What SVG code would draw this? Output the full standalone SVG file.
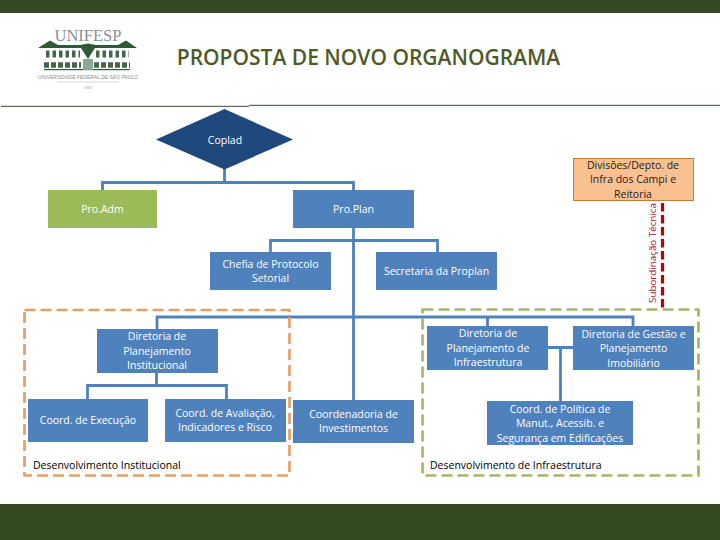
<svg xmlns="http://www.w3.org/2000/svg" width="720" height="540" viewBox="0 0 720 540">
<style>
text{font-family:"Open Sans","Liberation Sans",sans-serif;font-size:10.500px;text-anchor:middle;fill:#fff}
.box{fill:#4f81bd}
.c{fill:none;stroke:#4f81bd;stroke-width:2.8}
.k{fill:#000;text-anchor:start}
.lg{fill:#2f5a38}
</style>
<rect width="720" height="540" fill="#fff"/>
<rect width="720" height="13" fill="#344a23"/>
<rect y="504" width="720" height="36" fill="#344a23"/>
<path d="M1 106.300H249M249 105.300H720" stroke="#3a4a2c" stroke-width="1" fill="none"/>
<g id="logo">
<text x="88" y="41" style="font-family:'Liberation Serif',serif;font-size:16.500px;fill:#8a8f92">UNIFESP</text>
<path class="lg" d="M38 48L50 40.500L58 45H80L88 43.500L96 45H118L126 40.500L137 48Z"/>
<path d="M46 54H80M96 54H129" stroke="#43664c" stroke-width="7" stroke-dasharray="3.500 3" fill="none"/>
<path d="M44 65H81M94 65H130" stroke="#43664c" stroke-width="5.500" stroke-dasharray="5 2" fill="none"/>
<rect x="44" y="69" width="86" height="1.200" fill="#2f5a38"/>
<rect x="83" y="59" width="10" height="11" fill="#8fa596"/>
<path class="lg" d="M81 48H95L88 59Z"/>
<text x="88" y="78.500" style="font-family:'Liberation Sans',sans-serif;font-size:5px;fill:#8c8c8c">UNIVERSIDADE FEDERAL DE SÃO PAULO</text>
<path d="M58 82H118" stroke="#b5b5b5" stroke-width=".6"/>
<text x="88" y="89" style="font-family:'Liberation Sans',sans-serif;font-size:3.500px;fill:#999">1933</text>
</g>
<text x="368.500" y="65" style="font-size:21px;font-weight:600;fill:#4f5b26">PROPOSTA DE NOVO ORGANOGRAMA</text>
<g id="connectors">
<path class="c" d="M224.500 169V182.500M102.500 190V182.500H353.500V190M353.500 228V400M270.500 252V240.500H437.500V252M157 329V317H633V326M487.500 317V326M548 347.500H573M560.500 348V401M156.500 373V385.500M87.500 399V385.500H226.500V399"/>
</g>
<path id="red-link" d="M662.500 203V309" fill="none" stroke="#c00000" stroke-width="3.200" stroke-dasharray="8.500 3.500"/>
<g id="region-institucional">
<rect x="24.500" y="310" width="265" height="165.500" fill="none" stroke="#e6a066" stroke-width="2.700" stroke-dasharray="11 5"/>
<text class="k" x="33" y="469">Desenvolvimento Institucional</text>
</g>
<g id="region-infraestrutura">
<rect x="422.500" y="309.500" width="276" height="166" fill="none" stroke="#a6b76c" stroke-width="2.700" stroke-dasharray="11 5"/>
<text class="k" x="430" y="469">Desenvolvimento de Infraestrutura</text>
</g>
<g id="coplad"><path d="M156 139.500L224.500 109L293 139.500L224.500 169.500Z" fill="#1f497d"/><text x="225" y="144">Coplad</text></g>
<g id="proadm"><rect x="48" y="190" width="109" height="38" fill="#9bbb59"/><text x="102.500" y="213">Pro.Adm</text></g>
<g id="proplan"><rect class="box" x="293" y="190" width="121" height="38"/><text x="353.500" y="213">Pro.Plan</text></g>
<g id="divisoes"><rect x="573.500" y="158.500" width="120" height="42" fill="#fac090" stroke="#c77c35"/>
<text x="633" y="169" style="fill:#222">Divisões/Depto. de</text><text x="633" y="183" style="fill:#222">Infra dos Campi e</text><text x="633" y="198" style="fill:#222">Reitoria</text></g>
<g id="chefia"><rect class="box" x="210" y="252" width="121" height="38"/><text x="270.500" y="268">Chefia de Protocolo</text><text x="270.500" y="282">Setorial</text></g>
<g id="secretaria"><rect class="box" x="376" y="252" width="121" height="38"/><text x="436.500" y="275">Secretaria da Proplan</text></g>
<g id="dir-inst"><rect class="box" x="97" y="329" width="121" height="44"/><text x="157" y="340">Diretoria de</text><text x="157" y="355">Planejamento</text><text x="157" y="369">Institucional</text></g>
<g id="dir-infra"><rect class="box" x="427" y="326" width="121" height="44"/><text x="488" y="337">Diretoria de</text><text x="488" y="352">Planejamento de</text><text x="488" y="366">Infraestrutura</text></g>
<g id="dir-gestao"><rect class="box" x="573" y="326" width="121" height="44"/><text x="633.500" y="338">Diretoria de Gestão e</text><text x="633.500" y="352">Planejamento</text><text x="633.500" y="367">Imobiliário</text></g>
<g id="coord-exec"><rect class="box" x="28" y="399" width="120" height="43"/><text x="88" y="424">Coord. de Execução</text></g>
<g id="coord-aval"><rect class="box" x="165" y="399" width="121" height="43"/><text x="225" y="417">Coord. de Avaliação,</text><text x="225" y="431">Indicadores e Risco</text></g>
<g id="coord-inv"><rect class="box" x="293" y="400" width="121" height="43"/><text x="353.500" y="418">Coordenadoria de</text><text x="353.500" y="432">Investimentos</text></g>
<g id="coord-pol"><rect class="box" x="487" y="401" width="146" height="44"/><text x="560" y="413">Coord. de Política de</text><text x="560" y="427">Manut., Acessib. e</text><text x="560" y="442">Segurança em Edificações</text></g>
<text transform="translate(655.500 253) rotate(-90)" style="fill:#a5202a;font-size:9.800px">Subordinação Técnica</text>
</svg>
